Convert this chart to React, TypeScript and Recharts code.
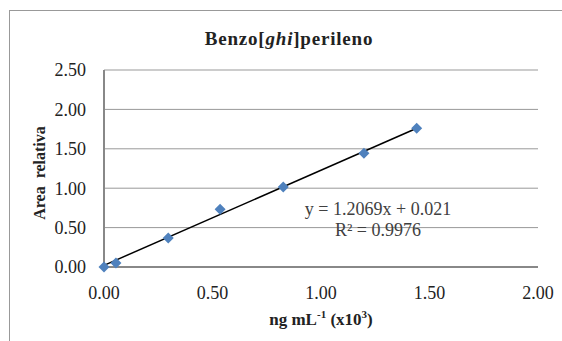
import React from "react";
import {
  ScatterChart,
  Scatter,
  XAxis,
  YAxis,
  CartesianGrid,
  ReferenceLine,
} from "recharts";

// calibration points
const concentration = [0, 0.055, 0.296, 0.535, 0.826, 1.198, 1.441];
const relativeArea = [0, 0.05, 0.367, 0.734, 1.016, 1.443, 1.76];

const xTicks = [0, 0.5, 1, 1.5, 2];
const yTicks = [0, 0.5, 1, 1.5, 2, 2.5];

// linear fit shown on the chart
const slope = 1.2069;
const intercept = 0.021;

const serif = "'Liberation Serif', 'Times New Roman', serif";

const points = concentration.map((x, i) => ({ x, y: relativeArea[i] }));
const lastX = concentration[concentration.length - 1];

const Diamond = (props: any) => {
  const { cx, cy } = props;
  const r = 5.5;
  return (
    <polygon
      points={`${cx},${cy - r} ${cx + r},${cy} ${cx},${cy + r} ${cx - r},${cy}`}
      fill="#4F81BD"
    />
  );
};

const tickStyle = { fontFamily: serif, fontSize: 18, fill: "#222" };

export default function App() {
  return (
    <div
      style={{
        position: "absolute",
        left: 0,
        top: 0,
        width: 562,
        height: 341,
        background: "#fff",
        overflow: "hidden",
        fontFamily: serif,
      }}
    >
      {/* chart area frame, cut at right and bottom */}
      <div
        style={{
          position: "absolute",
          left: 9,
          top: 10,
          width: 600,
          height: 400,
          borderLeft: "1px solid #999",
          borderTop: "1px solid #999",
        }}
      />
      <ScatterChart
        width={562}
        height={341}
        margin={{ top: 70, right: 24, bottom: 44, left: 44 }}
        style={{ position: "absolute", left: 0, top: 0 }}
      >
        <CartesianGrid vertical={false} stroke="#999" />
        <XAxis
          type="number"
          dataKey="x"
          domain={[0, 2]}
          ticks={xTicks}
          tickFormatter={(v: number) => v.toFixed(2)}
          tick={tickStyle}
          tickLine={false}
          tickMargin={13}
          height={30}
          stroke="#888"
          strokeWidth={2}
        />
        <YAxis
          type="number"
          dataKey="y"
          domain={[0, 2.5]}
          ticks={yTicks}
          tickFormatter={(v: number) => v.toFixed(2)}
          tick={tickStyle}
          tickLine={false}
          tickMargin={12}
          width={60}
          stroke="#888"
          strokeWidth={2}
        />
        <ReferenceLine
          segment={[
            { x: 0, y: intercept },
            { x: lastX, y: slope * lastX + intercept },
          ]}
          stroke="#000"
          strokeWidth={1.5}
          ifOverflow="visible"
        />
        <Scatter data={points} shape={<Diamond />} isAnimationActive={false} />
      </ScatterChart>

      <div
        style={{
          position: "absolute",
          left: 139,
          width: 300,
          top: 28,
          textAlign: "center",
          fontWeight: "bold",
          fontSize: 19,
          letterSpacing: 0.8,
          color: "#222",
        }}
      >
        Benzo[<i>ghi</i>]perileno
      </div>

      <div
        style={{
          position: "absolute",
          left: 40,
          top: 173,
          transform: "translate(-50%, -50%) rotate(-90deg)",
          whiteSpace: "pre",
          fontWeight: "bold",
          fontSize: 16,
          color: "#222",
        }}
      >
        {"Area  relativa"}
      </div>

      <div
        style={{
          position: "absolute",
          left: 171,
          width: 300,
          top: 308,
          textAlign: "center",
          fontWeight: "bold",
          fontSize: 17,
          color: "#222",
        }}
      >
        ng mL<sup style={{ fontSize: 11 }}>-1</sup> (x10<sup style={{ fontSize: 11 }}>3</sup>)
      </div>

      <div
        style={{
          position: "absolute",
          left: 228,
          width: 300,
          top: 199,
          textAlign: "center",
          fontSize: 18,
          lineHeight: "21px",
          color: "#404040",
        }}
      >
        y = {slope}x + {intercept}
        <br />
        R² = 0.9976
      </div>
    </div>
  );
}
